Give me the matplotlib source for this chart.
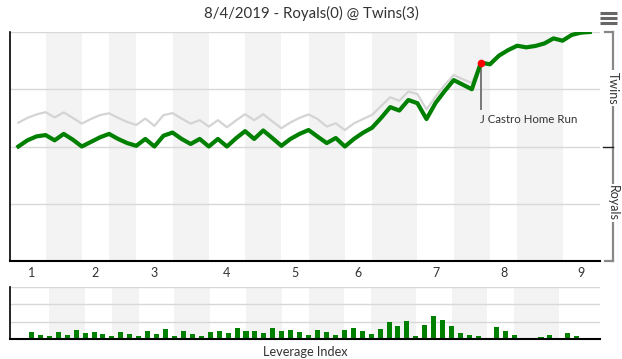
import numpy as np
import matplotlib
matplotlib.use("Agg")
import matplotlib.pyplot as plt

# ---------------- data ----------------
title = "8/4/2019 - Royals(0) @ Twins(3)"
half_inning_pa = [3, 4, 3, 3, 4, 4, 4, 4, 3, 4, 3, 5, 4, 4, 3, 5, 3]
inning_labels = ["1", "2", "3", "4", "5", "6", "7", "8", "9"]

twins_wp = [0.5, 0.527, 0.544, 0.55, 0.527, 0.555, 0.53, 0.5, 0.52, 0.54,
            0.555, 0.533, 0.515, 0.503, 0.533, 0.5, 0.547, 0.561, 0.533, 0.511,
            0.533, 0.5, 0.533, 0.5, 0.536, 0.567, 0.533, 0.57, 0.537, 0.503,
            0.533, 0.555, 0.572, 0.543, 0.515, 0.537, 0.5, 0.533, 0.56, 0.582,
            0.625, 0.672, 0.657, 0.703, 0.689, 0.62, 0.69, 0.742, 0.79, 0.77,
            0.75, 0.866, 0.859, 0.897, 0.921, 0.94, 0.933, 0.939, 0.95, 0.972,
            0.962, 0.987, 0.997, 1.0]

alt_wp = [0.604, 0.625, 0.64, 0.65, 0.627, 0.649, 0.625, 0.6, 0.62, 0.637,
          0.645, 0.625, 0.607, 0.594, 0.622, 0.59, 0.637, 0.646, 0.622, 0.6,
          0.615, 0.587, 0.615, 0.584, 0.614, 0.641, 0.615, 0.641, 0.61, 0.58,
          0.605, 0.625, 0.64, 0.62, 0.587, 0.601, 0.572, 0.601, 0.62, 0.638,
          0.677, 0.715, 0.70, 0.74, 0.729, 0.662, 0.717, 0.769, 0.812, 0.794,
          0.777, 0.87, 0.862, 0.899, 0.922, 0.941, 0.934, 0.94, 0.951, 0.972,
          0.963, 0.987, 0.997, 1.0]

leverage = [0.41, 0.24, 0.19, 0.41, 0.24, 0.53, 0.36, 0.41, 0.30, 0.19,
            0.41, 0.30, 0.19, 0.47, 0.30, 0.58, 0.19, 0.47, 0.30, 0.19,
            0.41, 0.47, 0.36, 0.64, 0.47, 0.47, 0.36, 0.64, 0.47, 0.53,
            0.41, 0.24, 0.53, 0.41, 0.24, 0.53, 0.64, 0.47, 0.30, 0.58,
            0.98, 0.75, 1.04, 0.19, 0.81, 1.32, 1.09, 0.75, 0.36, 0.24,
            0.19, 0.08, 0.70, 0.47, 0.24, 0.08, 0.08, 0.13, 0.24, 0.08,
            0.36, 0.19]

event_index = 51
event_label = "J Castro Home Run"
team_top = "Twins"
team_bottom = "Royals"
lev_title = "Leverage Index"

# ---------------- figure ----------------
W, H = 622, 359
fig = plt.figure(figsize=(W / 100, H / 100), dpi=100)
FONT = ["Lato", "DejaVu Sans"]
TXT = "#333333"
GREEN = "#008000"
BAND = "#f3f3f3"
GRID = "#d8d8d8"

def fig_rect(x0, y0, x1, y1):
    return [x0 / W, 1 - y1 / H, (x1 - x0) / W, (y1 - y0) / H]

bounds = np.concatenate([[0], np.cumsum(half_inning_pa)])
x = np.arange(len(twins_wp))

# main axes
ax = fig.add_axes(fig_rect(10, 32, 600, 261))
ax.set_xlim(-0.92, 64.13)
ax.set_ylim(0, 1)
for i in range(1, len(half_inning_pa), 2):
    ax.axvspan(bounds[i], bounds[i + 1], color=BAND, lw=0, zorder=0)
for yv in [0.25, 0.5, 0.75, 1.0]:
    ax.axhline(yv, color=GRID, lw=1, zorder=1)
ax.plot(x, alt_wp, color="#d4d4d4", lw=1.6, zorder=2, solid_joinstyle="round")
ax.plot(x, twins_wp, color=GREEN, lw=3.0, zorder=3, solid_joinstyle="round")
ax.plot([event_index, event_index], [twins_wp[event_index], 0.664],
        color="#777777", lw=1.4, zorder=2)
ax.plot([event_index], [twins_wp[event_index]], "o", color="#ff0000",
        ms=4.5, zorder=4, mec="#ff0000")
ax.text(event_index - 0.1, 0.62, event_label, fontsize=8.3, family=FONT,
        color=TXT, ha="left", va="center")

tick_pos = [(bounds[2 * i] + bounds[2 * i + 1]) / 2 for i in range(9)]
tick_pos[-1] += 0.5
ax.set_xticks(tick_pos)
ax.set_xticklabels(inning_labels, fontsize=9, family=FONT, color=TXT)
ax.tick_params(axis="x", length=0, pad=4)
ax.set_yticks([])
for s in ["top", "right"]:
    ax.spines[s].set_visible(False)
ax.spines["left"].set_color("#000000")
ax.spines["bottom"].set_color("#000000")
ax.spines["left"].set_linewidth(1.2)
ax.spines["bottom"].set_linewidth(1.5)

# leverage axes
axl = fig.add_axes(fig_rect(10, 286.7, 600, 339.3))
axl.set_xlim(-1.40, 64.6)
axl.set_ylim(0, 3)
for i in range(1, len(half_inning_pa), 2):
    axl.axvspan(bounds[i], bounds[i + 1], color=BAND, lw=0, zorder=0)
for yv in [1, 2, 3]:
    axl.axhline(yv, color=GRID, lw=1, zorder=1)
lev_x = np.arange(1, len(leverage) + 1)
axl.bar(lev_x, leverage, width=0.56, color=GREEN, zorder=2)
axl.set_xticks([])
axl.set_yticks([])
for s in ["top", "right"]:
    axl.spines[s].set_visible(False)
axl.spines["left"].set_color("#000000")
axl.spines["bottom"].set_color("#000000")
axl.spines["left"].set_linewidth(1.2)
axl.spines["bottom"].set_linewidth(1.5)

# overlay in pixel coordinates for decorations
ov = fig.add_axes([0, 0, 1, 1])
ov.set_xlim(0, W)
ov.set_ylim(H, 0)
ov.axis("off")
ov.patch.set_alpha(0)
ov.plot([613, 613], [32, 261], color="#888888", lw=1.6)
ov.plot([605, 613], [32, 32], color="#888888", lw=1.6)
ov.plot([605, 613], [261, 261], color="#888888", lw=1.6)
ov.plot([603, 613], [147, 147], color="#222222", lw=1.0)
ov.text(613, 88, team_top, rotation=270, fontsize=9, family=FONT, color=TXT,
        ha="center", va="center",
        bbox=dict(facecolor="white", edgecolor="none", pad=1.0))
ov.text(613, 203, team_bottom, rotation=270, fontsize=9, family=FONT, color=TXT,
        ha="center", va="center",
        bbox=dict(facecolor="white", edgecolor="none", pad=1.0))
for yy in [13.3, 18.3, 23.3]:
    ov.plot([600, 617], [yy, yy], color="#666666", lw=2.2, solid_capstyle="butt")

fig.text(0.5, 1 - 13 / H, title, fontsize=10.8, family=FONT, color=TXT,
         ha="center", va="center")
fig.text(305 / W, 1 - 352.5 / H, lev_title, fontsize=9.2, family=FONT,
         color=TXT, ha="center", va="center")

fig.savefig("out.png", dpi=100, facecolor="white")
